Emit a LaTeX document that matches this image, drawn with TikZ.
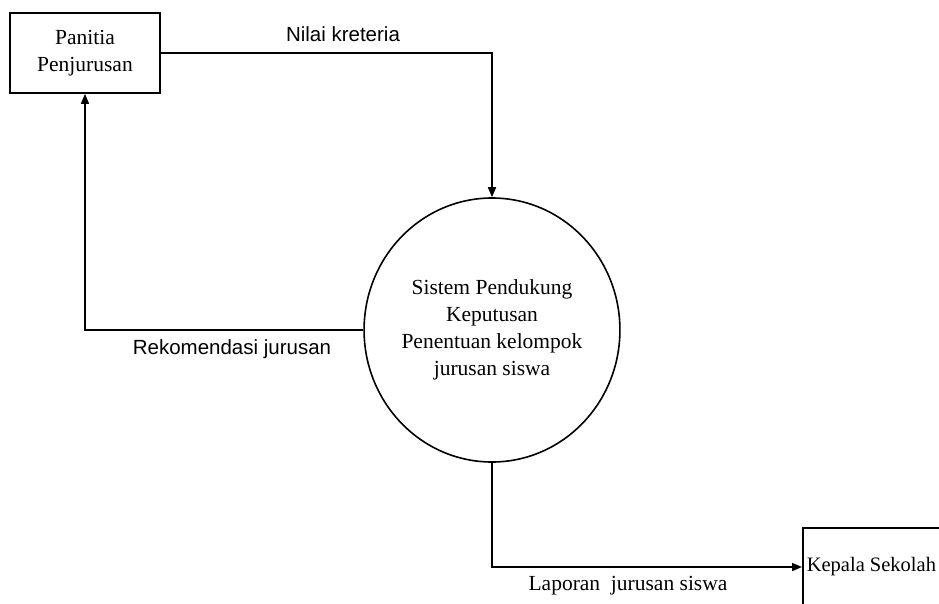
\documentclass[tikz,border=0pt]{standalone}
\usepackage{fontspec}
\setmainfont{Liberation Serif}
\newfontfamily\flowfont{Liberation Sans}
\usepackage{tikz}
\usetikzlibrary{shapes.geometric}
\usetikzlibrary{arrows.meta,positioning,calc}
\tikzstyle{EntityNode} =[draw,rectangle,line width=1.6pt,align=center,font=\fontsize{21.5}{27}\selectfont]
\tikzstyle{ProcessNode} =[draw,ellipse,line width=1.6pt,align=center,minimum width=250,minimum height=264,inner sep=0pt,font=\fontsize{21.5}{27}\selectfont]
\tikzstyle{FlowLabel} =[font=\flowfont\fontsize{20.5}{24}\selectfont]
\tikzstyle{FlowLabelSerif} =[font=\fontsize{21.5}{24}\selectfont]

\begin{document}
\begin{tikzpicture}[x=1pt,y=-1pt,-{Triangle[length=10pt,width=8pt]},line width=1.6pt]
    \useasboundingbox (0,0) rectangle (939,603);
    \clip (0,0) rectangle (939,603);

    \node[EntityNode,minimum width=150,minimum height=80,inner sep=2pt](Panitia-Penjurusan) at (85,53){Panitia\\Penjurusan};
    \node[ProcessNode](Sistem-Pendukung) at (492,330){Sistem Pendukung\\Keputusan\\Penentuan kelompok\\jurusan siswa};
    \node[EntityNode,anchor=west,minimum height=78,inner xsep=4pt,font=\fontsize{20.5}{27}\selectfont](Kepala-Sekolah) at (802,567){Kepala Sekolah};

    \node[FlowLabel](Nilai-Kreteria) at (343,34){Nilai kreteria};
    \node[FlowLabel](Rekomendasi-Jurusan) at (232,349){Rekomendasi jurusan};
    \node[FlowLabelSerif](Laporan-Jurusan) at (628,586){Laporan~ jurusan siswa};

    \draw (Panitia-Penjurusan.east) -| (Sistem-Pendukung.north);
    \draw (Sistem-Pendukung.west) -| (Panitia-Penjurusan.south);
    \draw (Sistem-Pendukung.south) |- (Kepala-Sekolah.west);
\end{tikzpicture}
\end{document}
